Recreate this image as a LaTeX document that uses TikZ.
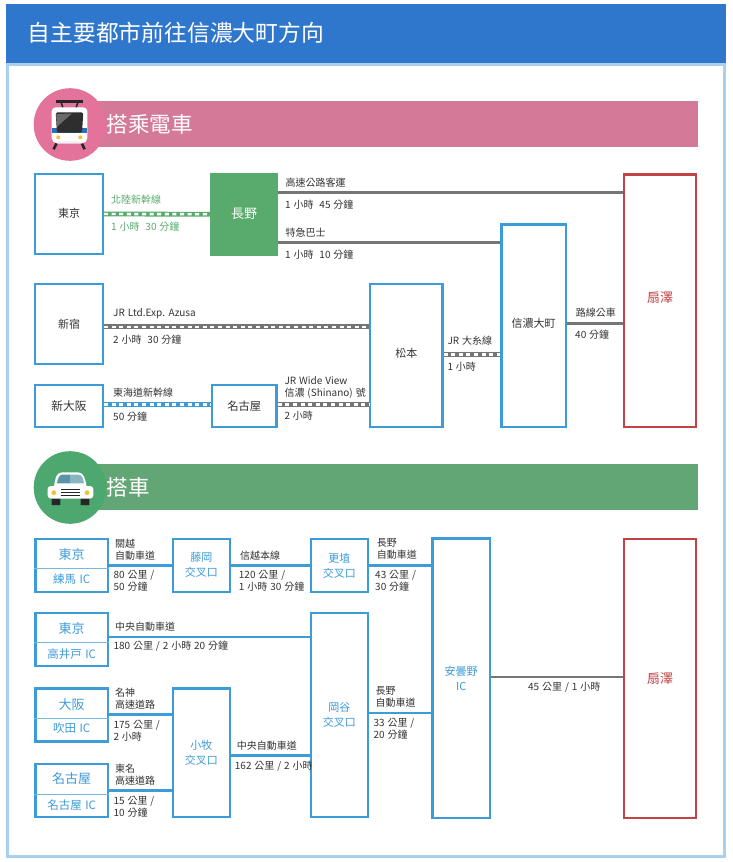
\documentclass[tikz,border=0pt]{standalone}
\usepackage{fontspec}
\setmainfont[WordSpace=1.3]{Noto Sans CJK TC}
\definecolor{headblue}{HTML}{2E77CC}
\definecolor{framblue}{HTML}{A9D0EE}
\definecolor{linkblue}{HTML}{3E9BD9}
\definecolor{goalred}{HTML}{C24246}
\definecolor{railgreen}{HTML}{58AB6C}
\definecolor{roadgrey}{HTML}{757575}
\definecolor{ink}{HTML}{333333}
\definecolor{bandpink}{HTML}{D47A98}
\definecolor{discpink}{HTML}{E3739B}
\definecolor{bandgreen}{HTML}{63A675}
\definecolor{discgreen}{HTML}{4CA86E}
\definecolor{trainblue}{HTML}{2B6FB5}
\definecolor{lampyellow}{HTML}{F0C330}
\definecolor{glassdark}{HTML}{5B95A5}
\definecolor{glasslight}{HTML}{87B5C0}
\tikzset{
    stationbox/.style={draw=linkblue, line width=2.3pt, fill=white, text=ink, font=\fontsize{11}{14}\selectfont},
    goalbox/.style={draw=goalred, line width=2.3pt, fill=white, text=goalred, font=\fontsize{13}{15}\selectfont},
    icbox/.style={draw=linkblue, line width=2.3pt, fill=white, text=linkblue, align=center, font=\fontsize{11}{15}\selectfont},
    citytext/.style={inner sep=0pt, text=linkblue, font=\fontsize{13}{15}\selectfont},
    porttext/.style={inner sep=0pt, text=linkblue, font=\fontsize{11.5}{14}\selectfont},
    routelabel/.style={anchor=west, inner sep=0pt, text=ink, align=left, font=\fontsize{10}{12}\selectfont},
    railline/.style={line width=4.8pt, draw=#1, postaction={draw=white, line width=2.4pt, dash pattern=on 4pt off 3.6pt}},
    roadline/.style={line width=2.5pt, draw=roadgrey},
    linkline/.style={line width=2.5pt, draw=linkblue},
    splitline/.style={line width=.8pt, draw=linkblue!70}
}
\begin{document}
\begin{tikzpicture}[x=1pt, y=-1pt]
    \useasboundingbox (0, 0) rectangle (732, 862);
    % frame and title
    \draw[framblue, line width=3pt, fill=white] (7.5, 64.5) rectangle (724.5, 856.5);
    \fill[headblue] (6, 4) rectangle (726, 63);
    \node[anchor=west, inner sep=0pt, text=white, font=\fontsize{22.8}{26}\selectfont] (title) at (27.5, 33) {自主要都市前往信濃大町方向};

    % train band
    \fill[bandpink] (70, 101) rectangle (698, 147);
    \fill[discpink] (70, 124.5) circle (36.3);
    \node[anchor=west, inner sep=0pt, text=white, font=\fontsize{21.5}{24}\selectfont] (traintitle) at (106.5, 124) {搭乘電車};
    % train icon
    \draw[black!85, line width=1.5pt] (61, 102) -- (63, 108) (78, 102) -- (76, 108);
    \fill[black!85] (56, 100) rectangle (82.7, 102.7);
    \draw[black!85, line width=2.6pt] (56.7, 143) -- (53.6, 149.3) (81.7, 143) -- (84.6, 149.3);
    \fill[white] (51.7, 111) to[out=90, in=180] (56, 107.3) -- (83, 107.3) to[out=0, in=90] (87.3, 111) -- (87.3, 138) to[out=-90, in=0] (82, 143.3) -- (57, 143.3) to[out=180, in=-90] (51.7, 138) -- cycle;
    \fill[black!5] (52.5, 141) -- (86.5, 141) -- (82, 143.3) -- (57, 143.3) -- cycle;
    \fill[trainblue] (51.7, 128.3) rectangle (87.3, 133.3);
    \fill[black!82, rounded corners=1.5pt] (55.7, 112.3) -- (83.3, 112.3) -- (82, 132.7) -- (57, 132.7) -- cycle;
    \fill[black!58] (56.3, 114) -- (72, 113.5) -- (56.8, 127) -- cycle;
    \fill[lampyellow] (58.3, 137.3) circle (2) (80.3, 137.3) circle (2);

    % train boxes
    \node[stationbox, minimum width=67.7, minimum height=79.7, text depth=2pt] (tokyo) at (69, 214) {東京};
    \node[fill=railgreen, text=white, minimum width=68, minimum height=82.5, font=\fontsize{13}{15}\selectfont] (nagano) at (244, 214.25) {長野};
    \node[goalbox, minimum width=72.2, minimum height=252.2, text depth=7pt] (ogisawa) at (660.2, 300.7) {扇澤};
    \node[stationbox, minimum width=64.4, minimum height=202.2, text depth=4.7pt] (omachi) at (533.7, 325.7) {信濃大町};
    \node[stationbox, minimum width=72.4, minimum height=143, text depth=5.3pt] (matsumoto) at (406.3, 355.3) {松本};
    \node[stationbox, minimum width=67.7, minimum height=80] (shinjuku) at (69, 323.8) {新宿};
    \node[stationbox, minimum width=67.7, minimum height=41.7, font=\fontsize{11.7}{14}\selectfont] (shinosaka) at (69, 406) {新大阪};
    \node[stationbox, minimum width=64.7, minimum height=41.7, font=\fontsize{11.3}{14}\selectfont] (nagoya) at (244.2, 406) {名古屋};

    % train connectors
    \draw[railline=railgreen] (tokyo.east) -- (nagano.west);
    \draw[roadline] (nagano.east |- 0, 192.5) -- (ogisawa.west |- 0, 192.5);
    \draw[roadline] (nagano.east |- 0, 242.5) -- (omachi.west |- 0, 242.5);
    \draw[railline=roadgrey] (shinjuku.east |- 0, 326.7) -- (matsumoto.west |- 0, 326.7);
    \draw[railline=linkblue] (shinosaka.east |- 0, 404.3) -- (nagoya.west |- 0, 404.3);
    \draw[railline=roadgrey] (nagoya.east |- 0, 404.3) -- (matsumoto.west |- 0, 404.3);
    \draw[railline=roadgrey] (matsumoto.east |- 0, 354.3) -- (omachi.west |- 0, 354.3);
    \draw[roadline] (omachi.east |- 0, 323.3) -- (ogisawa.west |- 0, 323.3);

    % train labels
    \node[routelabel, text=railgreen] (lblhokuriku) at (111, 199.5) {北陸新幹線};
    \node[routelabel, text=railgreen] (lblhokutime) at (111, 226.7) {1 小時 \ 30 分鐘};
    \node[routelabel] (lblbus) at (285.5, 182.7) {高速公路客運};
    \node[routelabel] (lblbustime) at (285, 204.5) {1 小時 \ 45 分鐘};
    \node[routelabel] (lblexpress) at (285.5, 233) {特急巴士};
    \node[routelabel] (lblexpresstime) at (285, 255) {1 小時 \ 10 分鐘};
    \node[routelabel] (lblazusa) at (113, 313.3) {JR Ltd.Exp. Azusa};
    \node[routelabel] (lblazusatime) at (113, 340) {2 小時 \ 30 分鐘};
    \node[routelabel] (lbltokaido) at (113, 392.3) {東海道新幹線};
    \node[routelabel] (lbltokaidotime) at (113, 416.7) {50 分鐘};
    \node[routelabel] (lblwide) at (284.3, 387) {JR Wide View\\信濃 (Shinano) 號};
    \node[routelabel] (lblwidetime) at (284.3, 416) {2 小時};
    \node[routelabel] (lbloito) at (447.3, 340.3) {JR 大糸線};
    \node[routelabel] (lbloitotime) at (447.3, 366.3) {1 小時};
    \node[routelabel] (lblroute) at (575.7, 313) {路線公車};
    \node[routelabel] (lblroutetime) at (575, 335) {40 分鐘};

    % car band
    \fill[bandgreen] (70, 464) rectangle (698, 510);
    \fill[discgreen] (70, 487.5) circle (36.3);
    \node[anchor=west, inner sep=0pt, text=white, font=\fontsize{21.5}{24}\selectfont] (cartitle) at (106.5, 487) {搭車};
    % car icon
    \fill[black!85] (51.7, 497) rectangle (60.3, 505) (80.7, 497) rectangle (89.3, 505);
    \fill[white] (54, 486) to[out=80, in=180] (62, 472.3) -- (78, 472.3) to[out=0, in=100] (86.5, 486) -- cycle;
    \fill[white, rounded corners=3pt] (47.7, 498.5) -- (47.7, 486) -- (93.3, 486) -- (93.3, 498.5) -- cycle;
    \fill[glassdark] (57, 483.3) to[out=80, in=180] (63, 474.5) -- (70.5, 474.5) -- (70.5, 483.3) -- cycle;
    \fill[glasslight] (84, 483.3) to[out=100, in=0] (78, 474.5) -- (70.5, 474.5) -- (70.5, 483.3) -- cycle;
    \fill[lampyellow] (53.7, 492.7) circle (2.4) (87, 492.7) circle (2.4);
    \draw[black!85, line width=1pt] (61, 489) -- (80, 489) (61, 492) -- (80, 492) (61, 495) -- (80, 495);

    % car boxes
    \node[stationbox, minimum width=72.4, minimum height=53] (nerima) at (71.7, 565.3) {};
    \node[stationbox, minimum width=72.4, minimum height=53] (takaido) at (71.7, 639.3) {};
    \node[stationbox, minimum width=72.4, minimum height=53] (suita) at (71.7, 715) {};
    \node[stationbox, minimum width=72.4, minimum height=53] (nagoyaic) at (71.7, 790.7) {};
    \node[icbox, minimum width=57, minimum height=53] (fujioka) at (201.4, 565.3) {藤岡\\交叉口};
    \node[icbox, minimum width=57, minimum height=53] (koshoku) at (339.4, 565.3) {更埴\\交叉口};
    \node[icbox, minimum width=57, minimum height=204] (okaya) at (339.4, 714.9) {岡谷\\交叉口};
    \node[icbox, minimum width=57, minimum height=128.4] (komaki) at (201.4, 752.7) {小牧\\交叉口};
    \node[icbox, minimum width=57.4, minimum height=279.4] (azumino) at (461.2, 678.2) {安曇野\\IC};
    \node[goalbox, minimum width=72.2, minimum height=278.7] (ogisawacar) at (660.2, 678.5) {扇澤};

    % city and IC names
    \draw[splitline] (nerima.west |- 0, 568.3) -- (nerima.east |- 0, 568.3);
    \draw[splitline] (takaido.west |- 0, 642.3) -- (takaido.east |- 0, 642.3);
    \draw[splitline] (suita.west |- 0, 718.3) -- (suita.east |- 0, 718.3);
    \draw[splitline] (nagoyaic.west |- 0, 794.3) -- (nagoyaic.east |- 0, 794.3);
    \node[citytext] (citynerima) at (71.7, 554.3) {東京};
    \node[porttext] (portnerima) at (71.7, 579.3) {練馬 IC};
    \node[citytext] (citytakaido) at (71.7, 628.7) {東京};
    \node[porttext] (porttakaido) at (71.7, 653.7) {高井戸 IC};
    \node[citytext] (citysuita) at (71.7, 704.7) {大阪};
    \node[porttext] (portsuita) at (71.7, 728.3) {吹田 IC};
    \node[citytext] (citynagoya) at (71.7, 778.3) {名古屋};
    \node[porttext] (portnagoya) at (71.7, 804.7) {名古屋 IC};

    % car connectors
    \draw[linkline] (nerima.east |- 0, 565.3) -- (fujioka.west |- 0, 565.3);
    \draw[linkline] (fujioka.east |- 0, 565.3) -- (koshoku.west |- 0, 565.3);
    \draw[linkline] (koshoku.east |- 0, 565.3) -- (azumino.west |- 0, 565.3);
    \draw[linkline] (takaido.east |- 0, 637) -- (okaya.west |- 0, 637);
    \draw[linkline] (suita.east |- 0, 714.3) -- (komaki.west |- 0, 714.3);
    \draw[linkline] (nagoyaic.east |- 0, 790.7) -- (komaki.west |- 0, 790.7);
    \draw[linkline] (komaki.east |- 0, 755.7) -- (okaya.west |- 0, 755.7);
    \draw[linkline] (okaya.east |- 0, 713) -- (azumino.west |- 0, 713);
    \draw[roadline] (azumino.east |- 0, 677) -- (ogisawacar.west |- 0, 677);

    % car labels
    \node[routelabel] (lblkanetsu) at (115, 550) {關越\\自動車道};
    \node[routelabel] (lblkanetsutime) at (113.3, 581.3) {80 公里 /\\50 分鐘};
    \node[routelabel] (lblshinetsu) at (240, 555.3) {信越本線};
    \node[routelabel] (lblshinetsutime) at (238.7, 580.7) {120 公里 /\\1 小時 30 分鐘};
    \node[routelabel] (lblchuo) at (115, 626.3) {中央自動車道};
    \node[routelabel] (lblchuotime) at (113.3, 646.3) {180 公里 / 2 小時 20 分鐘};
    \node[routelabel] (lblmeishin) at (115, 698.2) {名神\\高速道路};
    \node[routelabel] (lblmeishintime) at (113.3, 730.7) {175 公里 /\\2 小時};
    \node[routelabel] (lbltomei) at (115, 775) {東名\\高速道路};
    \node[routelabel] (lbltomeitime) at (113.3, 806.7) {15 公里 /\\10 分鐘};
    \node[routelabel] (lblchuotwo) at (236.7, 745.3) {中央自動車道};
    \node[routelabel] (lblchuotwotime) at (234.7, 765.7) {162 公里 / 2 小時};
    \node[routelabel] (lblnaganoup) at (376.7, 549.3) {長野\\自動車道};
    \node[routelabel] (lblnaganouptime) at (375, 581.3) {43 公里 /\\30 分鐘};
    \node[routelabel] (lblnaganodown) at (375.3, 696.7) {長野\\自動車道};
    \node[routelabel] (lblnaganodowntime) at (373.3, 728.8) {33 公里 /\\20 分鐘};
    \node[routelabel, anchor=center] (lblfinal) at (564.3, 686.7) {45 公里 / 1 小時};
\end{tikzpicture}
\end{document}
